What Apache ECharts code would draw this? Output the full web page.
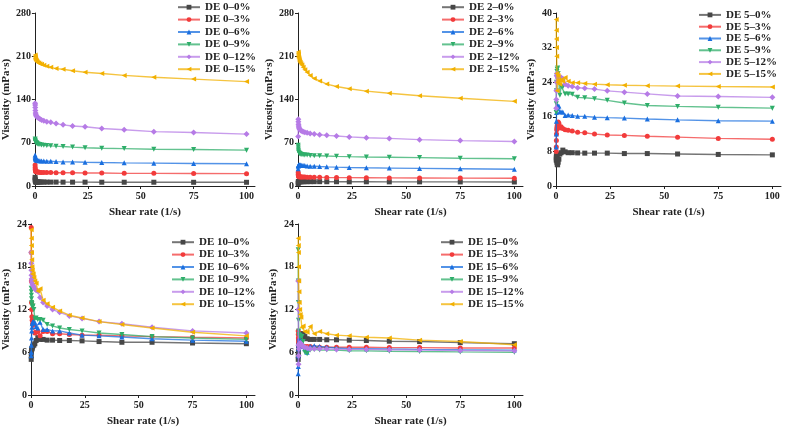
<!DOCTYPE html>
<html>
<head>
<meta charset="utf-8">
<script src="https://cdn.jsdelivr.net/npm/echarts@6/dist/echarts.min.js"></script>
<style>
  html, body { margin: 0; padding: 0; background: #fff; }
  #chart { width: 786px; height: 428px; }
</style>
</head>
<body>
<div id="chart"></div>
<script>
// 剪切速率 (1/s)
const shearRates = [0.1, 0.133, 0.178, 0.237, 0.316, 0.422, 0.562, 0.75, 1, 1.33, 1.78, 2.37, 3.16, 4.22, 5.62, 7.5, 10, 13.3, 17.8, 23.7, 31.6, 42.2, 56.2, 75, 100]

const levels = ['0%', '3%', '6%', '9%', '12%', '15%']

// DE 0
const de0_0 = [14, 11, 9, 8, 7, 6.5, 6.5, 6.5, 6.5, 6.5, 6.5, 6.4, 6.4, 6.4, 6.3, 6.3, 6.3, 6.2, 6.2, 6.2, 6.1, 6.1, 6.1, 6, 6]
const de0_3 = [34, 30, 27, 25, 24, 23.5, 23, 23, 22.5, 22.5, 22.5, 22, 22, 22, 22, 22, 21.5, 21.5, 21.5, 21, 21, 20.5, 20.5, 20.3, 20]
const de0_6 = [50, 48, 46, 45, 44, 43, 42.5, 42, 42, 41.5, 41, 41, 40.5, 40.5, 40, 40, 39.5, 39, 39, 38.5, 38, 37.5, 37, 36.5, 36]
const de0_9 = [76, 74, 73, 72, 71, 70.5, 70, 69.5, 69, 68, 67.5, 67, 66.5, 66, 65.5, 65, 64.5, 64, 63, 62, 61, 60.5, 59.5, 59, 58]
const de0_12 = [134, 131, 127, 122, 118, 116, 114, 113, 112, 111, 110, 108.5, 107, 105.5, 104, 103, 101, 99, 97, 96, 93, 91, 88, 86.5, 84]
const de0_15 = [212, 209, 207, 206, 205, 204, 203, 202, 201, 200, 199, 198, 197, 195.5, 194, 192, 190, 189, 186.5, 184, 182, 179, 176, 173, 169]

// DE 2
const de2_0 = [4, 6, 7, 7, 7, 7, 7, 7, 7, 7, 7, 7, 7, 7, 7, 7, 7, 6.9, 6.9, 6.8, 6.8, 6.7, 6.7, 6.6, 6.5]
const de2_3 = [22, 19, 17, 16, 15.5, 15, 15, 15, 14.8, 14.7, 14.6, 14.5, 14.4, 14.3, 14.2, 14.1, 14, 13.8, 13.6, 13.5, 13.3, 13.1, 13, 12.8, 12.5]
const de2_6 = [28, 32, 33, 33.5, 34, 34, 34, 34, 34, 33.5, 33.5, 33, 33, 32.5, 32, 32, 31.5, 31, 30.5, 30, 29.5, 29, 28.5, 28, 27]
const de2_9 = [66, 63, 60, 57, 55, 54, 53, 52.5, 52, 51.5, 51, 50.5, 50, 50, 49.5, 49, 49, 48.5, 48, 47.5, 47, 46.5, 46, 45, 44]
const de2_12 = [80, 108, 104, 100, 97, 95, 93, 92, 91, 90, 89, 88, 87, 86, 85, 84, 83, 82, 81, 79.5, 78, 77, 75, 73.5, 72]
const de2_15 = [217, 214, 212, 210, 208, 206, 204, 202, 200, 198, 196, 192, 188, 184, 179, 174, 170, 165, 161, 157.5, 153.5, 150, 146, 142, 137]

// DE 5
const de5_0 = [6, 6.5, 7, 6.5, 6, 5.5, 5, 4.9, 5.5, 6.2, 7.4, 7.7, 8.3, 7.9, 7.7, 7.7, 7.65, 7.6, 7.6, 7.6, 7.5, 7.5, 7.4, 7.3, 7.2]
const de5_3 = [8, 9, 10.5, 12, 13, 13.5, 14, 14.5, 14.8, 14.5, 13.4, 13.7, 13.3, 13, 12.9, 12.7, 12.4, 12.3, 12, 11.8, 11.7, 11.5, 11.3, 11, 10.8]
const de5_6 = [9, 12, 15, 17, 18, 18.5, 18.6, 18.5, 18.3, 18.5, 17.2, 17.1, 17.1, 16.3, 16.4, 16.3, 16.1, 16.1, 15.9, 15.8, 15.7, 15.5, 15.3, 15.1, 15]
const de5_9 = [17, 19, 22, 24, 25.5, 26.5, 27, 27.3, 26, 24, 21, 23, 22.9, 21.3, 21.3, 21.2, 20.5, 20.4, 20.2, 19.8, 19.2, 18.6, 18.4, 18.2, 18]
const de5_12 = [18, 20, 22, 24, 25.5, 26, 25.5, 25, 25.2, 24.8, 24.5, 25.1, 24.8, 23.5, 23.2, 23, 22.7, 22.6, 22.4, 22, 21.7, 21.3, 20.8, 20.7, 20.5]
const de5_15 = [38.5, 36, 34, 32, 30, 26, 22, 24, 25.5, 24.5, 23.5, 24.5, 24.2, 25.1, 24.2, 23.9, 23.9, 23.7, 23.55, 23.4, 23.3, 23.2, 23.1, 23, 22.9]

// DE 10
const de10_0 = [5, 5.5, 6, 6.2, 6.4, 6.5, 6.6, 6.8, 7, 7, 7.2, 7.65, 8.05, 7.8, 7.8, 7.7, 7.7, 7.65, 7.65, 7.6, 7.5, 7.4, 7.4, 7.3, 7.2]
const de10_3 = [23.5, 20, 16, 13, 12, 11, 10.5, 10, 10, 9.9, 8.7, 8.8, 8.9, 8.3, 8.9, 8.9, 8.6, 8.6, 8.5, 8.4, 8.4, 8.3, 8.2, 8.1, 8]
const de10_6 = [5.5, 6, 7, 8, 9, 9.5, 10, 10.2, 10.3, 10.2, 10.2, 9.6, 9.4, 10.2, 9.2, 9.2, 9, 9, 8.7, 8.4, 8.3, 8.15, 7.9, 7.7, 7.55]
const de10_9 = [15, 14.5, 14, 13.5, 13, 12.8, 12.5, 12.3, 12.5, 12, 10.7, 10.8, 10.6, 10.6, 10.5, 9.9, 9.7, 9.4, 9.2, 9, 8.7, 8.5, 8.2, 8, 7.8]
const de10_12 = [20, 18.5, 17.5, 16.8, 16.3, 16, 15.7, 15.5, 15.3, 15.2, 14.9, 14.7, 14.6, 13.7, 13, 12.5, 12, 11.6, 11.1, 10.75, 10.3, 10, 9.5, 9, 8.7]
const de10_15 = [23.2, 22, 21, 20, 19, 18, 17.5, 17, 17, 16.5, 16, 15.7, 14.6, 14.9, 13.3, 12.8, 12.3, 11.8, 11.2, 10.8, 10.3, 9.9, 9.4, 8.8, 8.3]

// DE 15
const de15_0 = [5, 5.5, 6, 6.5, 7, 7.5, 8, 8.3, 8.2, 8.4, 8.6, 8.6, 8.2, 7.9, 7.8, 7.8, 7.8, 7.75, 7.75, 7.7, 7.65, 7.55, 7.5, 7.35, 7.2]
const de15_3 = [9, 8.5, 8, 7.8, 7.5, 7.3, 7.2, 7.1, 7, 6.9, 6.9, 6.8, 6.8, 6.8, 6.8, 6.7, 6.7, 6.7, 6.7, 6.7, 6.7, 6.65, 6.65, 6.6, 6.6]
const de15_6 = [3, 4, 5.5, 6.5, 7, 7.5, 8, 7.8, 7.5, 7.2, 7, 6.8, 6.5, 6, 6.8, 6.9, 6.8, 6.7, 6.6, 6.5, 6.5, 6.45, 6.4, 6.35, 6.3]
const de15_9 = [20.4, 16, 13, 10.5, 9, 8.5, 8.2, 8.3, 8.3, 8.2, 8.2, 7.5, 6, 5.8, 6.3, 6.4, 6.3, 6.3, 6.3, 6.2, 6.2, 6.15, 6.1, 6.05, 6]
const de15_12 = [16, 12, 7, 4.3, 5.5, 6.5, 7, 7.2, 7.3, 7.2, 7, 6.8, 6.7, 6.6, 6.5, 6.5, 6.5, 6.45, 6.4, 6.4, 6.4, 6.35, 6.3, 6.25, 6.2]
const de15_15 = [22, 21, 20, 18, 16, 14.5, 13, 12, 11.3, 10.9, 9.5, 9.7, 8.9, 8.8, 9.6, 8.6, 8.9, 8.6, 8.4, 8.3, 8.1, 8, 7.7, 7.5, 7.05]

// 每个子图的 y 轴刻度
const yTicks0 = [0, 70, 140, 210, 280]
const yTicks2 = [0, 70, 140, 210, 280]
const yTicks5 = [0, 8, 16, 24, 32, 40]
const yTicks10 = [0, 6, 12, 18, 24]
const yTicks15 = [0, 6, 12, 18, 24]
const xTicks = [0, 25, 50, 75, 100]

const panels = [
  { de: 0, data: [de0_0, de0_3, de0_6, de0_9, de0_12, de0_15], yTicks: yTicks0 },
  { de: 2, data: [de2_0, de2_3, de2_6, de2_9, de2_12, de2_15], yTicks: yTicks2 },
  { de: 5, data: [de5_0, de5_3, de5_6, de5_9, de5_12, de5_15], yTicks: yTicks5 },
  { de: 10, data: [de10_0, de10_3, de10_6, de10_9, de10_12, de10_15], yTicks: yTicks10 },
  { de: 15, data: [de15_0, de15_3, de15_6, de15_9, de15_12, de15_15], yTicks: yTicks15 },
]

// 布局与样式
const colors = ['#474747', '#f23b3b', '#1a6fdf', '#2fae6a', '#b67be6', '#f2b000']
const symbols = ['rect', 'circle', 'triangle', 'triangle', 'diamond', 'triangle']
const rotates = [0, 0, 0, 180, 0, 90]
const grids = [
  { left: 30, top: 13 },
  { left: 298, top: 13 },
  { left: 556, top: 13 },
  { left: 30, top: 224 },
  { left: 298, top: 224 },
]
const legendPos = [
  { left: 177, top: 1 },
  { left: 441, top: 1 },
  { left: 698, top: 9 },
  { left: 171, top: 236 },
  { left: 440, top: 236 },
]
const FONT = 'Liberation Serif'

const chart = echarts.init(document.getElementById('chart'))

const option = {
  animation: false,
  backgroundColor: '#fff',
  grid: [],
  xAxis: [],
  yAxis: [],
  legend: [],
  series: [],
}

panels.forEach((p, i) => {
  const yMax = p.yTicks[p.yTicks.length - 1]
  option.grid.push({ left: grids[i].left, top: grids[i].top, width: 225, height: 173 })
  option.xAxis.push({
    type: 'value',
    gridIndex: i,
    min: 0,
    max: 104,
    name: 'Shear rate (1/s)',
    nameLocation: 'middle',
    nameGap: 21,
    nameTextStyle: { fontFamily: FONT, fontWeight: 'bold', fontSize: 11, color: '#222' },
    axisLine: { show: true, lineStyle: { color: '#222', width: 1 } },
    axisTick: { show: true, length: 3, lineStyle: { color: '#222' }, customValues: xTicks },
    axisLabel: { fontFamily: FONT, fontWeight: 'bold', fontSize: 10, color: '#222', margin: 5, customValues: xTicks },
    splitLine: { show: false },
  })
  option.yAxis.push({
    type: 'value',
    gridIndex: i,
    min: 0,
    max: yMax,
    interval: p.yTicks[1],
    name: 'Viscosity (mPa·s)',
    nameLocation: 'middle',
    nameGap: 19,
    nameTextStyle: { fontFamily: FONT, fontWeight: 'bold', fontSize: 11, color: '#222' },
    axisLine: { show: true, lineStyle: { color: '#222', width: 1 } },
    axisTick: { show: true, length: 3, lineStyle: { color: '#222' } },
    axisLabel: { fontFamily: FONT, fontWeight: 'bold', fontSize: 10, color: '#222', margin: 4 },
    splitLine: { show: false },
  })
  const names = levels.map(l => 'DE ' + p.de + '\u2013' + l)
  option.legend.push({
    orient: 'vertical',
    left: legendPos[i].left,
    top: legendPos[i].top,
    itemWidth: 22,
    itemHeight: 6,
    itemGap: 0,
    padding: 0,
    data: names,
    textStyle: { fontFamily: FONT, fontWeight: 'bold', fontSize: 11, color: '#222', lineHeight: i === 2 ? 11.8 : 12.4 },
  })
  p.data.forEach((vals, k) => {
    option.series.push({
      name: names[k],
      type: 'line',
      xAxisIndex: i,
      yAxisIndex: i,
      data: shearRates.map((x, j) => [x, vals[j]]),
      symbol: symbols[k],
      symbolSize: k === 4 ? 6 : 5,
      symbolRotate: rotates[k],
      color: colors[k],
      itemStyle: { color: colors[k] },
      lineStyle: { width: 1.4, color: colors[k], opacity: 0.75 },
      showAllSymbol: true,
      z: 2 + k,
    })
  })
})

chart.setOption(option)
</script>
</body>
</html>
